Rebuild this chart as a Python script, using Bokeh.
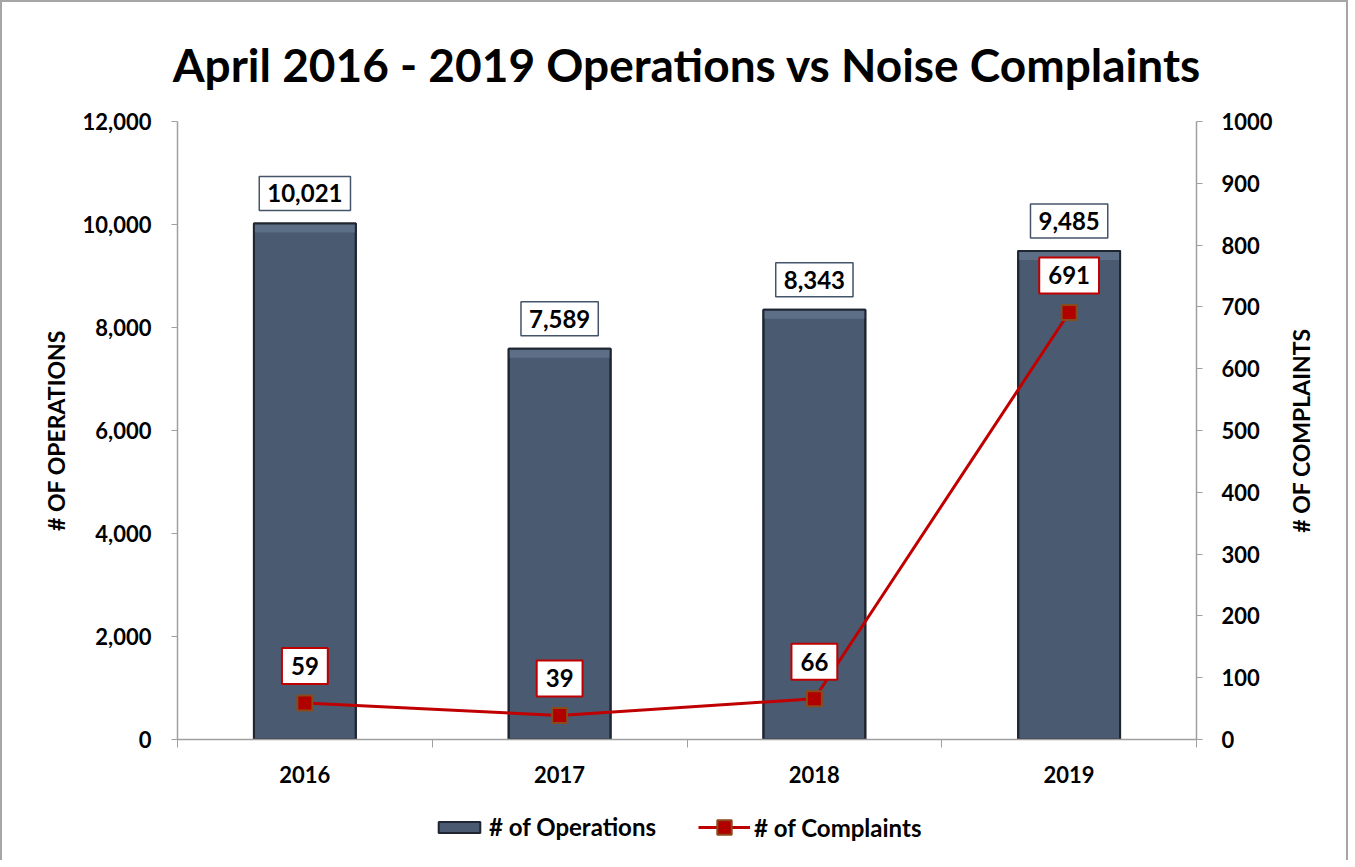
import math
from bokeh.plotting import figure
from bokeh.layouts import column, row
from bokeh.models import (ColumnDataSource, LinearAxis, Range1d, FixedTicker,
                          NumeralTickFormatter, Label, Legend, LegendItem)
from bokeh.embed import file_html
from bokeh.resources import INLINE

years = ["2016", "2017", "2018", "2019"]
operations = [10021, 7589, 8343, 9485]
complaints = [59, 39, 66, 691]
ops_labels = ["10,021", "7,589", "8,343", "9,485"]
cmp_labels = ["59", "39", "66", "691"]
left_ticks = [0, 2000, 4000, 6000, 8000, 10000, 12000]
right_ticks = [0, 100, 200, 300, 400, 500, 600, 700, 800, 900, 1000]

FONT = "Lato"
BAR = "#495a71"
BAR_EDGE = "#1f2631"
RED = "#c00000"
BORDER = "2px solid #a6a6a6"
n = len(years)
xpos = [i + 0.5 for i in range(n)]
bevel = 12000 / 618 * 9  # ~9 px highlight band at bar tops

src = ColumnDataSource(dict(x=xpos, ops=operations, cmp=complaints,
                            ops_b=[v - bevel for v in operations]))

TOP, BOTTOM = 119, 63
p = figure(width=1276, height=800, x_range=Range1d(0, n), y_range=Range1d(0, 12000),
           output_backend="svg", toolbar_location=None,
           min_border_left=175, min_border_right=82, min_border_top=TOP, min_border_bottom=BOTTOM,
           x_axis_type=None, y_axis_type=None)
p.extra_y_ranges = {"right": Range1d(0, 1000)}
p.outline_line_color = None
p.xgrid.visible = False
p.ygrid.visible = False
p.background_fill_color = "white"
p.border_fill_color = "white"
p.styles = {"border-left": BORDER, "border-top": BORDER}

p.title.text = "April 2016 - 2019 Operations vs Noise Complaints"
p.title.align = "center"
p.title.offset = -7
p.title.text_font = FONT
p.title.text_font_size = "46px"
p.title.text_font_style = "bold"
p.title.text_color = "black"
p.title.standoff = 60

AX = "#a0a0a0"

def style_axis(ax, size="22px"):
    ax.axis_line_color = AX
    ax.axis_line_width = 1.5
    ax.major_tick_line_color = AX
    ax.minor_tick_line_color = AX
    ax.major_label_text_font = FONT
    ax.major_label_text_font_size = size
    ax.major_label_text_font_style = "bold"
    ax.major_label_text_color = "black"
    ax.axis_label_text_font = FONT
    ax.axis_label_text_font_size = "23px"
    ax.axis_label_text_font_style = "bold"
    ax.axis_label_text_color = "black"

# x axis
xa = LinearAxis(ticker=FixedTicker(ticks=xpos, minor_ticks=list(range(n + 1))))
xa.major_label_overrides = {x: y for x, y in zip(xpos, years)}
style_axis(xa)
xa.major_tick_out = 0
xa.major_tick_in = 0
xa.minor_tick_out = 8
xa.minor_tick_in = 0
xa.major_label_standoff = 18
p.add_layout(xa, "below")

# left axis
ya = LinearAxis(ticker=FixedTicker(ticks=left_ticks), formatter=NumeralTickFormatter(format="0,0"),
                axis_label="# OF OPERATIONS")
style_axis(ya)
ya.major_tick_out = 6
ya.major_tick_in = 0
ya.minor_tick_out = 0
ya.minor_tick_in = 0
ya.major_label_standoff = 20
ya.axis_label_standoff = 10
p.add_layout(ya, "left")

# right axis (its title is drawn in the strip to the right so it reads bottom-to-top)
ra = LinearAxis(y_range_name="right", ticker=FixedTicker(ticks=right_ticks))
style_axis(ra)
ra.major_tick_out = 6
ra.major_tick_in = 0
ra.minor_tick_out = 0
ra.minor_tick_in = 0
ra.major_label_standoff = 19
p.add_layout(ra, "right")

bars = p.vbar(x="x", top="ops", width=0.4, source=src, fill_color=BAR,
              line_color=BAR_EDGE, line_width=2)
p.vbar(x="x", top="ops", bottom="ops_b", width=0.4, source=src, fill_color="#5d6f87",
       line_color=None)
p.vbar(x="x", top="ops", width=0.4, source=src, fill_color=None,
       line_color=BAR_EDGE, line_width=2)

line = p.line(x="x", y="cmp", source=src, y_range_name="right", line_color=RED, line_width=3)
marks = p.scatter(x="x", y="cmp", source=src, y_range_name="right", marker="square", size=15,
                  fill_color="#b00000", line_color="#8a4a1a", line_width=2)

for xv, yv, t in zip(xpos, operations, ops_labels):
    p.add_layout(Label(x=xv, y=yv, text=t, y_offset=30,
                       text_align="center", text_baseline="middle", text_font=FONT,
                       text_font_size="24px", text_font_style="bold", text_color="black",
                       background_fill_color="white", border_line_color="#44546a",
                       border_line_width=1.5, padding=8))

for xv, yv, t in zip(xpos, complaints, cmp_labels):
    p.add_layout(Label(x=xv, y=yv, text=t, y_range_name="right", y_offset=37,
                       text_align="center", text_baseline="middle", text_font=FONT,
                       text_font_size="24px", text_font_style="bold", text_color="black",
                       background_fill_color="white", border_line_color=RED,
                       border_line_width=2, padding=9))

# strip on the right holding the right axis title
rf = figure(width=72, height=800, x_range=Range1d(0, 1), y_range=Range1d(0, 1000),
            output_backend="svg", toolbar_location=None,
            min_border_left=0, min_border_right=0, min_border_top=TOP, min_border_bottom=BOTTOM,
            x_axis_type=None, y_axis_type=None)
rf.outline_line_color = None
rf.xgrid.visible = False
rf.ygrid.visible = False
rf.border_fill_color = "white"
rf.styles = {"border-right": BORDER, "border-top": BORDER}
rf.add_layout(Label(x=0.5, y=500, x_offset=-12, text="# OF COMPLAINTS", angle=math.pi / 2,
                    text_align="center", text_baseline="middle", text_font=FONT,
                    text_font_size="23px", text_font_style="bold", text_color="black"))

# legend strip below the chart (its renderers use the real data, kept out of view)
lg = figure(width=1348, height=60, x_range=Range1d(-100, -99), y_range=Range1d(0, 1),
            output_backend="svg", toolbar_location=None, min_border=0,
            x_axis_type=None, y_axis_type=None)
lg.outline_line_color = None
lg.xgrid.visible = False
lg.ygrid.visible = False
lg.border_fill_color = "white"
lg.styles = {"border-left": BORDER, "border-right": BORDER}
lb = lg.vbar(x="x", top="ops", width=0.4, source=src, fill_color=BAR, line_color=BAR_EDGE, line_width=2)
ll = lg.line(x="x", y="cmp", source=src, line_color=RED, line_width=3)
lm = lg.scatter(x="x", y="cmp", source=src, marker="square", size=15,
                fill_color="#b00000", line_color="#8a4a1a", line_width=2)

legend_style = dict(orientation="horizontal", glyph_width=52, padding=0, margin=0,
                    label_standoff=4, label_text_font=FONT, label_text_font_size="24px",
                    label_text_font_style="bold", label_text_color="black",
                    border_line_color=None, background_fill_alpha=0)
leg1 = Legend(items=[LegendItem(label="# of Operations", renderers=[lb])],
              location=(431, 19), glyph_height=14, **legend_style)
leg2 = Legend(items=[LegendItem(label="# of Complaints", renderers=[ll, lm])],
              location=(696, 15), glyph_height=36, **legend_style)
lg.add_layout(leg1, "center")
lg.add_layout(leg2, "center")

open("out.html", "w").write(file_html(column(row(p, rf), lg), INLINE))
